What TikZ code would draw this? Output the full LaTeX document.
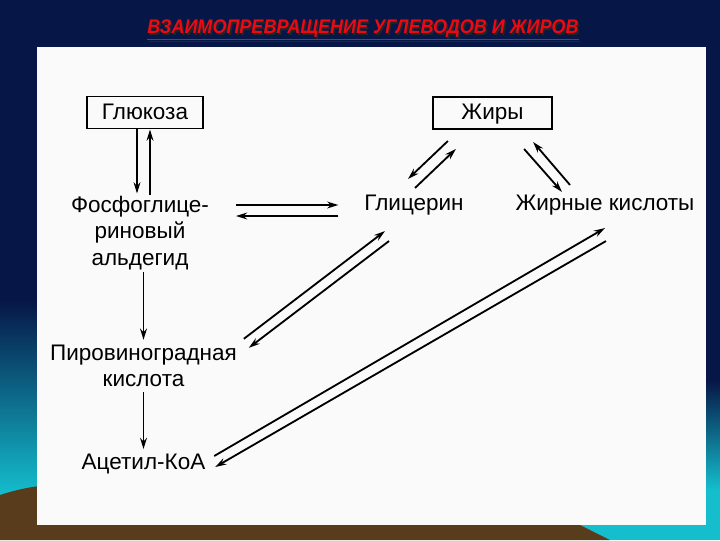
\documentclass[tikz,border=0pt]{standalone}
\usepackage{fontspec}
\setmainfont{Liberation Sans}
\usetikzlibrary{positioning, arrows.meta, calc}

\definecolor{slidenavy}{RGB}{6,22,70}
\definecolor{slidecyan}{RGB}{20,190,205}
\definecolor{slidebrown}{RGB}{88,60,28}
\definecolor{titlered}{RGB}{235,10,20}
\definecolor{paper}{RGB}{250,250,250}

\begin{document}
\begin{tikzpicture}[
        x=0.025cm, y=-0.025cm,
        font=\fontsize{16}{19}\selectfont,
        substance/.style={
            rectangle,
            draw,
            line width=1.4pt,
            minimum height=0.8cm,
            text height=11.5pt,
            text depth=2pt,
            text centered
        },
        plain/.style={
            text centered,
            align=center
        },
        line/.style={draw, -{Stealth[length=2.8mm, width=1.7mm]}, line width=1.3pt}
    ]
        % Slide background
        \useasboundingbox (0,0) rectangle (720,540);
        \fill[slidenavy] (0,0) rectangle (720,540);
        \shade[top color=slidenavy, bottom color=slidecyan] (0,300) rectangle (40,495);
        \shade[top color=slidenavy, bottom color=slidecyan] (700,380) rectangle (720,490);
        \fill[slidecyan] (560,490) rectangle (720,540);
        \fill[slidebrown] (0,495) .. controls (15,490) and (30,487) .. (40,486)
            -- (40,525) -- (580,525) -- (610,540) -- (0,540) -- cycle;
        \fill[paper] (37,47) rectangle (706,525);

        % Title
        \node[text=black!85, font=\fontsize{14}{16}\selectfont\bfseries\itshape] at (364.5,31.5)
            {\scalebox{0.915}[1]{\underline{ВЗАИМОПРЕВРАЩЕНИЕ УГЛЕВОДОВ И ЖИРОВ}}};
        \node[text=titlered, font=\fontsize{14}{16}\selectfont\bfseries\itshape] (title) at (363,30)
            {\scalebox{0.915}[1]{\underline{ВЗАИМОПРЕВРАЩЕНИЕ УГЛЕВОДОВ И ЖИРОВ}}};

        % Nodes
        \node [substance, minimum width=2.9cm] (gluc) at (145,112.5) {Глюкоза};
        \node [substance, minimum width=2.98cm] (fats) at (492.5,113) {Жиры};
        \node [plain] (pga) at (140,233) {Фосфоглице-\\риновый\\альдегид};
        \node [plain] (glyc) at (414,205) {Глицерин};
        \node [plain] (facids) at (605,205) {Жирные кислоты};
        \node [plain] (pyr) at (143.5,366) {Пировиноградная\\кислота};
        \node [plain] (acoa) at (143.5,464) {Ацетил-КоА};

        % Paths
        \path [line] ($(gluc.south)+(-8,0)$) -- ($(gluc.south -| pga.north)+(-3,64)$);
        \path [line] ($(gluc.south -| pga.north)+(10,66)$) -- ($(gluc.south)+(5,0)$);
        \path [line] ($(pga.east |- glyc.west)+(22,0)$) -- ($(glyc.west)+(-21,0)$);
        \path [line] ($(glyc.west)+(-21,11)$) -- ($(pga.east |- glyc.west)+(22,11)$);
        \path [line] ($(fats.south west)+(16,11)$) -- ($(glyc.north)+(-6,-11)$);
        \path [line] ($(glyc.north)+(1,-2)$) -- ($(fats.south west)+(24,19)$);
        \path [line] ($(fats.south east)+(-29,19)$) -- ($(facids.north)+(-43,2)$);
        \path [line] ($(facids.north)+(-35,-5)$) -- ($(fats.south east)+(-20,12)$);
        \path [line] ($(pga.south -| pyr.north)+(0,-3)$) -- (pyr.north);
        \path [line] ($(pyr.north east)+(2,-1)$) -- ($(glyc.south)+(-29,11)$);
        \path [line] ($(glyc.south)+(-25,21)$) -- ($(pyr.north east)+(7,8)$);
        \path [line] (pyr.south) -- (acoa.north);
        \path [line] ($(acoa.east)+(4,-8)$) -- ($(facids.south)+(0,8)$);
        \path [line] ($(facids.south)+(1,21)$) -- ($(acoa.east)+(5,3)$);
    \end{tikzpicture}
\end{document}
